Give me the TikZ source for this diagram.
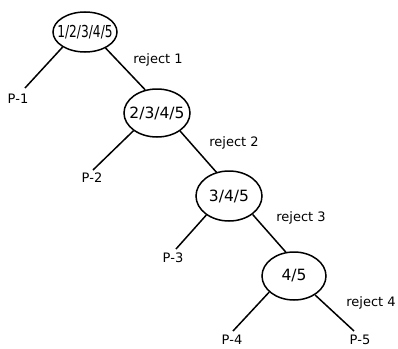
\documentclass[tikz,border=0pt]{standalone}
\usepackage{fontspec}
\setmainfont{DejaVu Sans}
\usetikzlibrary{shapes.geometric}
\tikzset{
  pnode/.style={draw, ellipse, line width=1.5pt, inner sep=0pt, minimum width=66pt, minimum height=48pt, font=\fontsize{15.5}{17}\selectfont},
  edgeline/.style={line width=1.5pt},
  lbl/.style={inner sep=0pt, font=\fontsize{13}{15}\selectfont}
}
\begin{document}
\begin{tikzpicture}[x=1pt,y=-1pt]
\useasboundingbox (0,0) rectangle (398,348);
% nodes
\node[pnode, minimum width=64pt, minimum height=40pt] (n1) at (85,32) {\makebox[0pt]{\scalebox{0.74}[1]{\fontsize{16.5}{18}\selectfont 1/2/3/4/5}}};
\node[pnode] (n2) at (157,113) {\makebox[0pt]{2/3/4/5}};
\node[pnode, minimum height=50pt] (n3) at (229,196) {\makebox[0pt]{3/4/5}};
\node[pnode, minimum width=64pt] (n4) at (294,276) {\makebox[0pt]{4/5}};
% free ends
\coordinate (e1) at (25,88);
\coordinate (e2) at (93,170);
\coordinate (e3) at (176,249);
\coordinate (e4) at (233,331);
\coordinate (e5) at (354,331);
% leaf labels
\node[lbl] (p1) at (18,99) {P-1};
\node[lbl] (p2) at (92,178) {P-2};
\node[lbl] (p3) at (173,258) {P-3};
\node[lbl] (p4) at (232,340) {P-4};
\node[lbl] (p5) at (360,340) {P-5};
% reject labels
\node[lbl] (r1) at (158,60) {reject 1};
\node[lbl] (r2) at (234,143) {reject 2};
\node[lbl] (r3) at (301,218) {reject 3};
\node[lbl] (r4) at (371,303) {reject 4};
% connectors
\draw[edgeline] (n1.214) -- (e1);
\draw[edgeline] (n1.322) -- (n2.117);
\draw[edgeline] (n2.217) -- (e2);
\draw[edgeline] (n2.322) -- (n3.118);
\draw[edgeline] (n3.220) -- (e3);
\draw[edgeline] (n3.322) -- (n4.109);
\draw[edgeline] (n4.213) -- (e4);
\draw[edgeline] (n4.318) -- (e5);
\end{tikzpicture}
\end{document}
